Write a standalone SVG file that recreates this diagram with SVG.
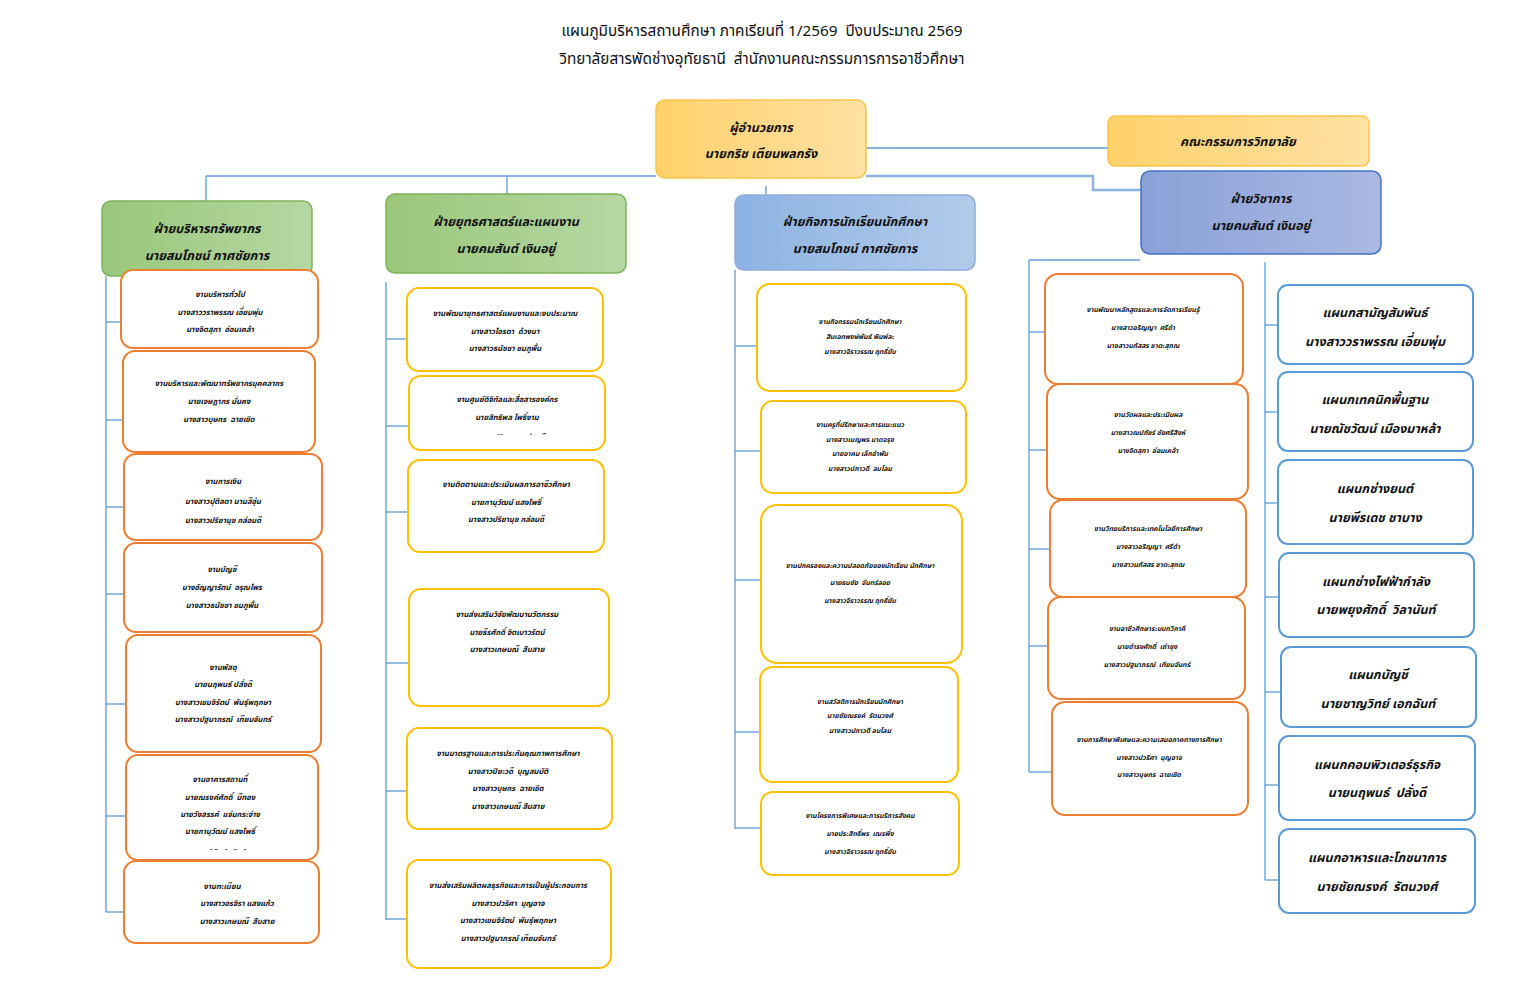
<svg xmlns="http://www.w3.org/2000/svg" width="1525" height="986" viewBox="0 0 1525 986">
<style>
text{font-family:"Tahoma","Noto Sans Thai","Leelawadee UI","DejaVu Sans",sans-serif;fill:#111;dominant-baseline:central;text-anchor:middle;white-space:pre}
.title{font-size:15.3px}
.h{font-size:12.5px;font-weight:bold;font-style:italic}
.s{font-size:7.6px;font-weight:bold;font-style:italic}
.xs{font-size:6.8px;font-weight:bold;font-style:italic}
.or{fill:#fff;stroke:#ED7D31;stroke-width:2}
.ye{fill:#fff;stroke:#FFC000;stroke-width:2}
.bl{fill:#fff;stroke:#5B9BD5;stroke-width:2}
.con line,.con polyline{stroke:#5B9BD5;stroke-width:1.3;fill:none}
</style>
<defs>
<linearGradient id="gY" x1="0" x2="1"><stop offset="0" stop-color="#FFD16B"/><stop offset="1" stop-color="#FFE1A4"/></linearGradient>
<linearGradient id="gG" x1="0" x2="1"><stop offset="0" stop-color="#99C77A"/><stop offset="1" stop-color="#B6D7A3"/></linearGradient>
<linearGradient id="gB" x1="0" x2="1"><stop offset="0" stop-color="#8DB3E2"/><stop offset="1" stop-color="#B2CBEA"/></linearGradient>
<linearGradient id="gB2" x1="0" x2="1"><stop offset="0" stop-color="#8AA1D8"/><stop offset="1" stop-color="#AAB9E2"/></linearGradient>
<clipPath id="c1"><rect x="120" y="760" width="200" height="90"/></clipPath>
<clipPath id="c2"><rect x="405" y="380" width="200" height="55"/></clipPath>
</defs>
<g id="title"><text class="title" x="762" y="31">แผนภูมิบริหารสถานศึกษา ภาคเรียนที่ 1/2569  ปีงบประมาณ 2569</text><text class="title" x="762" y="59">วิทยาลัยสารพัดช่างอุทัยธานี  สำนักงานคณะกรรมการการอาชีวศึกษา</text></g>
<g class="con" id="connectors">
<line x1="206" y1="176" x2="656" y2="176"/>
<line x1="206" y1="176" x2="206" y2="201"/>
<line x1="507" y1="176" x2="507" y2="194"/>
<polyline points="866,176 1093,176 1093,190 1141,190" style="stroke:#8DB3E2;stroke-width:2.5"/>
<line x1="866" y1="148" x2="1108" y2="148"/>
<line x1="766" y1="186" x2="766" y2="196"/>
<line x1="106" y1="276" x2="106" y2="912"/>
<line x1="106" y1="322" x2="121" y2="322"/>
<line x1="106" y1="420" x2="123" y2="420"/>
<line x1="106" y1="507" x2="124" y2="507"/>
<line x1="106" y1="594" x2="124" y2="594"/>
<line x1="106" y1="704" x2="126" y2="704"/>
<line x1="106" y1="816" x2="126" y2="816"/>
<line x1="106" y1="912" x2="124" y2="912"/>
<line x1="386" y1="282" x2="386" y2="920"/>
<line x1="386" y1="339" x2="407" y2="339"/>
<line x1="386" y1="426" x2="409" y2="426"/>
<line x1="386" y1="512" x2="408" y2="512"/>
<line x1="386" y1="663" x2="409" y2="663"/>
<line x1="386" y1="791" x2="407" y2="791"/>
<line x1="386" y1="919" x2="407" y2="919"/>
<line x1="735" y1="270" x2="735" y2="829"/>
<line x1="735" y1="346" x2="757" y2="346"/>
<line x1="735" y1="451" x2="761" y2="451"/>
<line x1="735" y1="580" x2="761" y2="580"/>
<line x1="735" y1="732" x2="760" y2="732"/>
<line x1="735" y1="828" x2="761" y2="828"/>
<line x1="1029" y1="260" x2="1140" y2="260" style="stroke:#8DB3E2;stroke-width:2"/>
<line x1="1029" y1="260" x2="1029" y2="772"/>
<line x1="1029" y1="332" x2="1045" y2="332"/>
<line x1="1029" y1="450" x2="1047" y2="450"/>
<line x1="1029" y1="549" x2="1050" y2="549"/>
<line x1="1029" y1="646" x2="1048" y2="646"/>
<line x1="1029" y1="772" x2="1052" y2="772"/>
<line x1="1265" y1="262" x2="1265" y2="880"/>
<line x1="1265" y1="325" x2="1278" y2="325"/>
<line x1="1265" y1="412" x2="1278" y2="412"/>
<line x1="1265" y1="503" x2="1278" y2="503"/>
<line x1="1265" y1="597" x2="1279" y2="597"/>
<line x1="1265" y1="692" x2="1281" y2="692"/>
<line x1="1265" y1="785" x2="1279" y2="785"/>
<line x1="1265" y1="880" x2="1279" y2="880"/>
</g>
<g id="director"><rect x="656" y="100" width="210" height="78" rx="9" fill="url(#gY)" stroke="#F8C54A" stroke-width="1.5"/><text class="h" x="761" y="128">ผู้อำนวยการ</text><text class="h" x="761" y="154">นายกริช เตียนพลกรัง</text></g>
<g id="committee"><rect x="1108" y="116" width="261" height="50" rx="7" fill="url(#gY)" stroke="#F8C54A" stroke-width="1.5"/><text class="h" x="1238" y="142">คณะกรรมการวิทยาลัย</text></g>
<g id="dept-resource"><rect x="102" y="201" width="210" height="75" rx="9" fill="url(#gG)" stroke="#7CB35A" stroke-width="1.5"/><text class="h" x="207" y="229">ฝ่ายบริหารทรัพยากร</text><text class="h" x="207" y="256">นายสมโภชน์ กาศชัยการ</text></g>
<g id="dept-strategy"><rect x="386" y="194" width="240" height="79" rx="9" fill="url(#gG)" stroke="#7CB35A" stroke-width="1.5"/><text class="h" x="506" y="222">ฝ่ายยุทธศาสตร์และแผนงาน</text><text class="h" x="506" y="249">นายคมสันต์ เงินอยู่</text></g>
<g id="dept-student"><rect x="735" y="195" width="240" height="75" rx="9" fill="url(#gB)" stroke="#8EAADB" stroke-width="1.5"/><text class="h" x="855" y="222">ฝ่ายกิจการนักเรียนนักศึกษา</text><text class="h" x="855" y="249">นายสมโภชน์ กาศชัยการ</text></g>
<g id="dept-academic"><rect x="1141" y="171" width="240" height="83" rx="9" fill="url(#gB2)" stroke="#4472C4" stroke-width="1.5"/><text class="h" x="1261" y="199">ฝ่ายวิชาการ</text><text class="h" x="1261" y="226">นายคมสันต์ เงินอยู่</text></g>
<g id="r1"><rect class="or" x="121" y="270" width="197" height="78" rx="12"/><text class="s" x="220" y="294">งานบริหารทั่วไป</text><text class="s" x="220" y="312">นางสาววราพรรณ เอี่ยมพุ่ม</text><text class="s" x="220" y="329">นางจิตสุภา  อ่อนเคล้า</text></g>
<g id="r2"><rect class="or" x="123" y="351" width="192" height="101" rx="12"/><text class="s" x="219" y="383">งานบริหารและพัฒนาทรัพยากรบุคคลากร</text><text class="s" x="219" y="401">นายเจษฎากร มั่นคง</text><text class="s" x="219" y="419">นางสาวบุษกร  ฉายเชิด</text></g>
<g id="r3"><rect class="or" x="124" y="454" width="198" height="86" rx="12"/><text class="s" x="223" y="481">งานการเงิน</text><text class="s" x="223" y="501">นางสาวปุติลดา นามสีอุ่น</text><text class="s" x="223" y="520">นางสาวปริยานุช กล่อมดี</text></g>
<g id="r4"><rect class="or" x="124" y="543" width="198" height="89" rx="12"/><text class="s" x="222" y="569">งานบัญชี</text><text class="s" x="222" y="587">นางอัญญารัตน์  อรุณไพร</text><text class="s" x="222" y="605">นางสาวธนัชชา ชมภูพื้น</text></g>
<g id="r5"><rect class="or" x="126" y="635" width="195" height="117" rx="12"/><text class="s" x="223" y="667">งานพัสดุ</text><text class="s" x="223" y="684">นายนฤพนธ์ ปลั่งดี</text><text class="s" x="223" y="702">นางสาวเขมจิรัตน์  พันธุ์พฤกษา</text><text class="s" x="223" y="719">นางสาวปฐมาภรณ์  เทียมจันทร์</text></g>
<g id="r6"><rect class="or" x="126" y="755" width="192" height="105" rx="12"/><text class="s" x="220" y="779">งานอาคารสถานที่</text><text class="s" x="220" y="797">นายณรงค์ศักดิ์  มีทอง</text><text class="s" x="220" y="814">นายวังสรรค์  แจ่มกระจ่าง</text><text class="s" x="220" y="831">นายกานุวัฒน์ แสงโพธิ์</text><text class="s" x="220" y="852" clip-path="url(#c1)">นางสาวเขมจิรัตน์  พันธุ์พฤกษา</text></g>
<g id="r7"><rect class="or" x="124" y="861" width="195" height="82" rx="12"/><text class="s" x="222" y="886">งานทะเบียน</text><text class="s" x="237" y="903">นางสาวอรจิรา แสงแก้ว</text><text class="s" x="237" y="921">นางสาวเกษมณี  สืบสาย</text></g>
<g id="s1"><rect class="ye" x="407" y="288" width="196" height="83" rx="12"/><text class="s" x="505" y="313">งานพัฒนายุทธศาสตร์แผนงานและงบประมาณ</text><text class="s" x="505" y="331">นางสาวไอรดา  ด้วงนา</text><text class="s" x="505" y="348">นางสาวธนัชชา ชมภูพื้น</text></g>
<g id="s2"><rect class="ye" x="409" y="376" width="196" height="74" rx="12"/><text class="s" x="507" y="399">งานศูนย์ดิจิทัลและสื่อสารองค์กร</text><text class="s" x="507" y="417">นายสิทธิพล โพธิ์งาม</text><text class="s" x="507" y="437" clip-path="url(#c2)">นางสาวปริยานุช กล่อมดี</text></g>
<g id="s3"><rect class="ye" x="408" y="460" width="196" height="92" rx="12"/><text class="s" x="506" y="484">งานติดตามและประเมินผลการอาชีวศึกษา</text><text class="s" x="506" y="502">นายกานุวัฒน์ แสงโพธิ์</text><text class="s" x="506" y="519">นางสาวปริยานุช กล่อมดี</text></g>
<g id="s4"><rect class="ye" x="409" y="589" width="200" height="117" rx="12"/><text class="s" x="507" y="614">งานส่งเสริมวิจัยพัฒนานวัตกรรม</text><text class="s" x="507" y="632">นายธีรศักดิ์ จิตเบาวรัตน์</text><text class="s" x="507" y="649">นางสาวเกษมณี  สืบสาย</text></g>
<g id="s5"><rect class="ye" x="407" y="728" width="205" height="101" rx="12"/><text class="s" x="508" y="753">งานมาตรฐานและการประกันคุณภาพการศึกษา</text><text class="s" x="508" y="771">นางสาวปิยะวดี  บุญสมบัติ</text><text class="s" x="508" y="788">นางสาวบุษกร  ฉายเชิด</text><text class="s" x="508" y="806">นางสาวเกษมณี สืบสาย</text></g>
<g id="s6"><rect class="ye" x="407" y="860" width="204" height="108" rx="12"/><text class="s" x="508" y="885">งานส่งเสริมผลิตผลธุรกิจและการเป็นผู้ประกอบการ</text><text class="s" x="508" y="903">นางสาวปวริศา  บุญอาจ</text><text class="s" x="508" y="920">นางสาวเขมจิรัตน์  พันธุ์พฤกษา</text><text class="s" x="508" y="938">นางสาวปฐมาภรณ์ เทียมจันทร์</text></g>
<g id="a1"><rect class="ye" x="757" y="284" width="209" height="107" rx="13"/><text class="xs" x="860" y="322">งานกิจกรรมนักเรียนนักศึกษา</text><text class="xs" x="860" y="337">สิบเอกพงษ์พันธ์ พิมพ์ละ</text><text class="xs" x="860" y="352">นางสาวจิราวรรณ ฤทธิ์ยับ</text></g>
<g id="a2"><rect class="ye" x="761" y="401" width="205" height="92" rx="12"/><text class="xs" x="860" y="425">งานครูที่ปรึกษาและการแนะแนว</text><text class="xs" x="860" y="440">นางสาวเบญพร บาตจรุง</text><text class="xs" x="860" y="454">นายอาคม เล็กอำพัน</text><text class="xs" x="860" y="469">นางสาวปภาวดี  ลบโลม</text></g>
<g id="a3"><rect class="ye" x="761" y="505" width="201" height="158" rx="16"/><text class="xs" x="860" y="566">งานปกครองและความปลอดภัยของนักเรียน นักศึกษา</text><text class="xs" x="860" y="583">นายธนชัย  จันทร์ลอย</text><text class="xs" x="860" y="601">นางสาวจิราวรรณ ฤทธิ์ยับ</text></g>
<g id="a4"><rect class="ye" x="760" y="667" width="198" height="115" rx="13"/><text class="xs" x="860" y="702">งานสวัสดิการนักเรียนนักศึกษา</text><text class="xs" x="860" y="716">นายชัยณรงค์  รัตนวงศ์</text><text class="xs" x="860" y="731">นางสาวปภาวดี ลบโลม</text></g>
<g id="a5"><rect class="ye" x="761" y="792" width="198" height="83" rx="12"/><text class="xs" x="860" y="816">งานโครงการพิเศษและการบริการสังคม</text><text class="xs" x="860" y="834">นายประสิทธิ์พร  เณรพึ่ง</text><text class="xs" x="860" y="852">นางสาวจิราวรรณ ฤทธิ์ยับ</text></g>
<g id="v1"><rect class="or" x="1045" y="274" width="198" height="110" rx="13"/><text class="xs" x="1143" y="310">งานพัฒนาหลักสูตรและการจัดการเรียนรู้</text><text class="xs" x="1143" y="328">นางสาวอริญญา  ศรีดำ</text><text class="xs" x="1143" y="346">นางสาวนภัสสร ชาตะสุภณ</text></g>
<g id="v2"><rect class="or" x="1047" y="384" width="201" height="115" rx="13"/><text class="xs" x="1148" y="415">งานวัดผลและประเมินผล</text><text class="xs" x="1148" y="433">นางสาวณปภัชร์ ชัยศรีสิงห์</text><text class="xs" x="1148" y="451">นางจิตสุภา  อ่อนเคล้า</text></g>
<g id="v3"><rect class="or" x="1050" y="500" width="196" height="97" rx="13"/><text class="xs" x="1148" y="529">งานวิทยบริการและเทคโนโลยีการศึกษา</text><text class="xs" x="1148" y="547">นางสาวอริญญา  ศรีดำ</text><text class="xs" x="1148" y="565">นางสาวนภัสสร ชาตะสุภณ</text></g>
<g id="v4"><rect class="or" x="1048" y="597" width="197" height="102" rx="13"/><text class="xs" x="1147" y="629">งานอาชีวศึกษาระบบทวิภาคี</text><text class="xs" x="1147" y="647">นายดำรงศักดิ์  เถ่าชุง</text><text class="xs" x="1147" y="665">นางสาวปฐมาภรณ์  เทียมจันทร์</text></g>
<g id="v5"><rect class="or" x="1052" y="702" width="196" height="113" rx="13"/><text class="xs" x="1149" y="740">งานการศึกษาพิเศษและความเสมอภาคทางการศึกษา</text><text class="xs" x="1149" y="758">นางสาวปวริศา  บุญอาจ</text><text class="xs" x="1149" y="775">นางสาวบุษกร  ฉายเชิด</text></g>
<g id="d1"><rect class="bl" x="1278" y="285" width="195" height="79" rx="10"/><text class="h" x="1375" y="313">แผนกสามัญสัมพันธ์</text><text class="h" x="1375" y="342">นางสาววราพรรณ เอี่ยมพุ่ม</text></g>
<g id="d2"><rect class="bl" x="1278" y="372" width="195" height="79" rx="10"/><text class="h" x="1375" y="400">แผนกเทคนิคพื้นฐาน</text><text class="h" x="1375" y="429">นายณัชวัฒน์ เมืองมาหล้า</text></g>
<g id="d3"><rect class="bl" x="1278" y="460" width="195" height="84" rx="10"/><text class="h" x="1375" y="489">แผนกช่างยนต์</text><text class="h" x="1375" y="518">นายพีรเดช ชาบาง</text></g>
<g id="d4"><rect class="bl" x="1279" y="553" width="195" height="84" rx="10"/><text class="h" x="1376" y="582">แผนกช่างไฟฟ้ากำลัง</text><text class="h" x="1376" y="610">นายพยุงศักดิ์  วิลานันท์</text></g>
<g id="d5"><rect class="bl" x="1281" y="647" width="195" height="80" rx="10"/><text class="h" x="1378" y="675">แผนกบัญชี</text><text class="h" x="1378" y="704">นายชาญวิทย์ เอกฉันท์</text></g>
<g id="d6"><rect class="bl" x="1279" y="736" width="196" height="84" rx="10"/><text class="h" x="1377" y="765">แผนกคอมพิวเตอร์ธุรกิจ</text><text class="h" x="1377" y="793">นายนฤพนธ์  ปลั่งดี</text></g>
<g id="d7"><rect class="bl" x="1279" y="829" width="196" height="84" rx="10"/><text class="h" x="1377" y="858">แผนกอาหารและโภชนาการ</text><text class="h" x="1377" y="887">นายชัยณรงค์  รัตนวงศ์</text></g>
</svg>
